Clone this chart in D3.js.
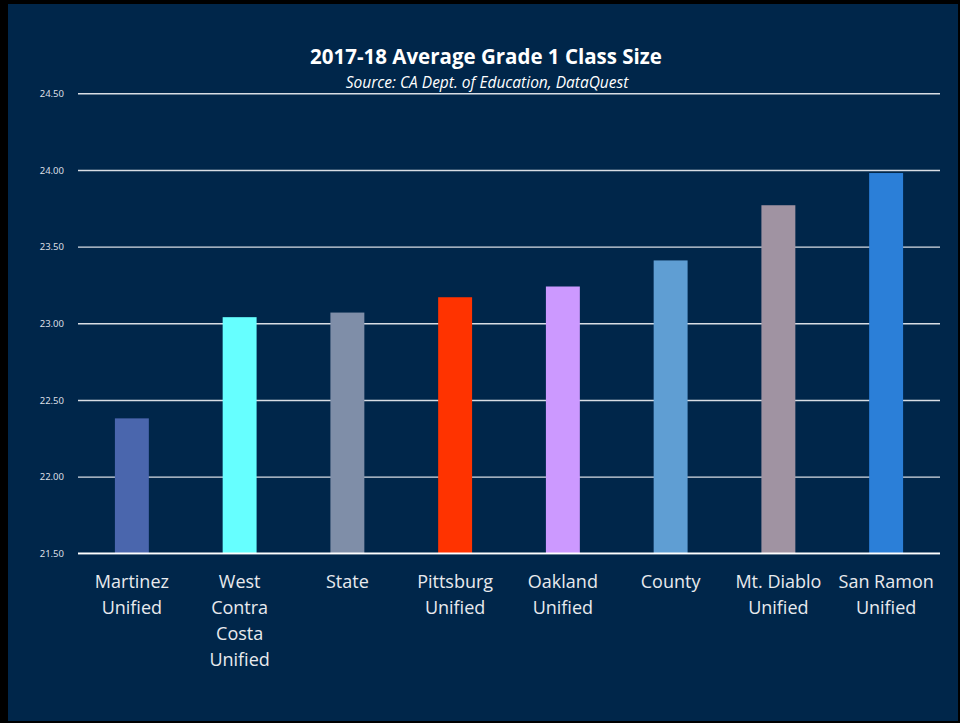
<!DOCTYPE html>
<html>
<head>
<meta charset="utf-8">
<script src="https://cdn.jsdelivr.net/npm/d3@7"></script>
<style>
  html, body { margin: 0; padding: 0; background: #000; }
  svg { display: block; }
</style>
</head>
<body>
<svg id="chart"></svg>
<script>
// chart data
const categories = [
  ["Martinez", "Unified"],
  ["West", "Contra", "Costa", "Unified"],
  ["State"],
  ["Pittsburg", "Unified"],
  ["Oakland", "Unified"],
  ["County"],
  ["Mt. Diablo", "Unified"],
  ["San Ramon", "Unified"]
];
const classSize = [22.38, 23.04, 23.07, 23.17, 23.24, 23.41, 23.77, 23.98];
const barColors = ["#4a66ad", "#66ffff", "#7f8ea8", "#ff3300", "#cc99ff", "#5f9ed3", "#a093a2", "#2b7fd8"];
const yTicks = [21.5, 22.0, 22.5, 23.0, 23.5, 24.0, 24.5];

const W = 960, H = 723;
const margin = { top: 93.3, right: 20, bottom: 169.7, left: 78 };
const w = W - margin.left - margin.right;
const h = H - margin.top - margin.bottom;

const svg = d3.select("#chart")
  .attr("width", W)
  .attr("height", H);

// dark slide background with black frame
svg.append("rect")
  .attr("x", 0).attr("y", 0)
  .attr("width", W).attr("height", H)
  .attr("fill", "#000");
svg.append("rect")
  .attr("x", 8).attr("y", 4)
  .attr("width", W - 10).attr("height", H - 6)
  .attr("fill", "#00264a");

const g = svg.append("g")
  .attr("transform", `translate(${margin.left},${margin.top})`);

const xScale = d3.scaleBand()
  .domain(d3.range(categories.length))
  .range([0, w])
  .paddingInner(0.685)
  .paddingOuter(0.3425);

const yScale = d3.scaleLinear()
  .domain([21.5, 24.5])
  .range([h, 0]);

// gridlines + tick labels
const yAxis = d3.axisLeft(yScale)
  .tickValues(yTicks)
  .tickSize(-w)
  .tickPadding(14)
  .tickFormat(d3.format(".2f"));

const yg = g.append("g").call(yAxis);
yg.select(".domain").remove();
yg.selectAll(".tick line")
  .attr("stroke", "#d8dde4")
  .attr("stroke-width", 1.4);
yg.selectAll(".tick text")
  .attr("fill", "#dcdfe4")
  .style("font-family", "'Noto Sans', sans-serif")
  .style("font-size", "9.5px");

// bars
g.append("g")
  .selectAll("rect")
  .data(classSize)
  .join("rect")
    .attr("x", (d, i) => xScale(i))
    .attr("y", d => yScale(d))
    .attr("width", xScale.bandwidth())
    .attr("height", d => yScale(21.5) - yScale(d))
    .attr("fill", (d, i) => barColors[i]);

// redraw baseline on top of bars
g.append("line")
  .attr("x1", 0).attr("x2", w)
  .attr("y1", yScale(21.5)).attr("y2", yScale(21.5))
  .attr("stroke", "#ffffff")
  .attr("stroke-width", 1.4);

// category labels
const labels = g.append("g")
  .selectAll("text")
  .data(categories)
  .join("text")
    .attr("text-anchor", "middle")
    .attr("fill", "#e8eaee")
    .style("font-family", "'Open Sans', sans-serif")
    .style("font-size", "18px")
    .attr("transform", (d, i) => `translate(${xScale(i) + xScale.bandwidth() / 2},${h + 35})`);

labels.selectAll("tspan")
  .data(d => d)
  .join("tspan")
    .attr("x", 0)
    .attr("y", (d, i) => i * 26)
    .text(d => d);

// title + source
svg.append("text")
  .attr("x", 486)
  .attr("y", 64)
  .attr("text-anchor", "middle")
  .attr("fill", "#ffffff")
  .style("font-family", "'Open Sans', sans-serif")
  .style("font-weight", "bold")
  .style("font-size", "20.5px")
  .text("2017-18 Average Grade 1 Class Size");

svg.append("text")
  .attr("x", 487)
  .attr("y", 88)
  .attr("text-anchor", "middle")
  .attr("fill", "#ffffff")
  .style("font-family", "'Open Sans', sans-serif")
  .style("font-style", "italic")
  .style("font-size", "15.5px")
  .text("Source: CA Dept. of Education, DataQuest");
</script>
</body>
</html>
